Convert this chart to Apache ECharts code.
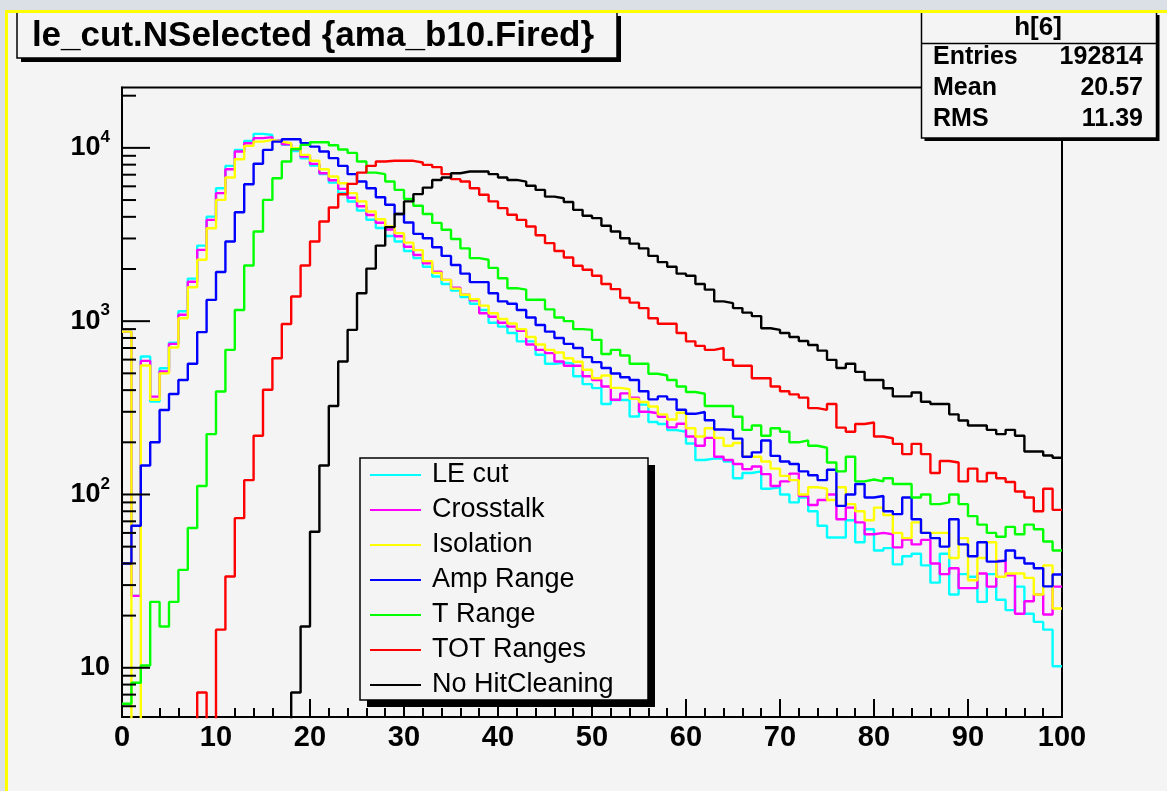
<!DOCTYPE html>
<html><head><meta charset="utf-8">
<script src="https://cdn.jsdelivr.net/npm/echarts@6/dist/echarts.min.js"></script>
<style>html,body{margin:0;padding:0;background:#f4f4f4;overflow:hidden}#c{width:1167px;height:791px}</style>
</head><body><div id="c"></div>
<script>
// Histogram bins: 100 bins of width 1 from 0 to 100 (bin i covers [i, i+1)); counts per bin.
const seriesNames = ['LE cut','Crosstalk','Isolation','Amp Range','T Range','TOT Ranges','No HitCleaning'];
const seriesColors = ['#00ffff','#ff00ff','#ffff00','#0000ff','#00ff00','#ff0000','#000000'];

const leCut = [870,26,625,344,535,750,1140,1760,2730,4010,
 5850,7870,9740,10970,12050,11870,11000,10400,9600,8700,
 7900,7050,6300,5500,4900,4350,3850,3450,3100,2880,
 2540,2310,2060,1810,1640,1500,1380,1260,1160,980,
 930,854,765,765,640,568,575,570,481,433,
 411,333,351,351,282,330,262,255,235,230,
 197,158,161,161,155,124,133,136,108,110,
 100,90,96,80,66,56.5,56.5,71,53,63,
 47.5,49,39.5,44,45.5,39,31,45.5,26.5,34.7,
 33.5,24,34.7,24.7,21.5,29.4,20.5,18.4,16.6,10.2];

const crosstalk = [870,26,590,367,512,740,1090,1690,2580,3840,
 5480,7530,9530,10640,11380,11530,11000,10500,9800,8900,
 8080,7140,6500,5800,5150,4600,4100,3700,3380,3090,
 2690,2410,2160,1930,1730,1560,1420,1320,1110,1060,
 980,930,880,733,683,654,585,553,553,481,
 458,420,352,383,362,300,294,281,244,256,
 216,191,212,165,158,150,140,145,131,112,
 119,132,98,87,93,100,72,84,69,59,
 60,59,49.5,55,51.5,54.7,40,34.7,37.5,28.8,
 28.8,35,29.4,41.3,34.2,20.5,24.2,26.5,20.3,29.4];

const isolation = [870,0,555,352,500,705,1040,1570,2260,3440,
 5010,6740,8600,10270,10870,11120,10870,10640,9960,9110,
 8420,7530,6830,6250,5480,4910,4290,3870,3520,3220,
 2840,2570,2220,1900,1730,1540,1420,1340,1230,1110,
 1030,970,900,810,733,683,660,611,583,524,
 468,486,412,405,356,342,322,290,271,296,
 241,216,241,212,191,198,165,165,155,141,
 128,121,100,110,108,93,110,88,80,71,
 84,76,60,56,69,60,60,60,43,56,
 32,43,53,33.5,35,35,33,26.5,39,22];

const ampRange = [40,66,147,200,307,380,458,568,864,1327,
 1920,2880,4250,6170,8090,9730,10870,11220,11220,10650,
 10170,9530,8720,7870,7050,6390,5850,5190,4700,4150,
 3710,3190,3010,2670,2380,2110,1880,1680,1680,1450,
 1300,1260,1160,1050,950,870,800,740,700,620,
 580,537,499,475,458,394,354,368,354,308,
 292,299,268,237,236,210,165,175,205,167,
 155,150,136,129,121,139,86,100,115,96,
 98,80,77,96,72,60,56,50,72,51.5,
 44,53,41,41.5,47.5,43,40,37.5,29.5,34.5];

const tRange = [6.2,8.2,10.3,24,17.3,24,36.7,64,112,223,
 393,683,1160,2095,3290,5010,6680,8340,9830,10400,
 10780,10780,10350,9780,9350,8340,7200,7050,6390,5720,
 5070,4630,4150,3690,3370,2980,2630,2310,2260,2030,
 1770,1550,1520,1330,1330,1170,1050,1000,900,891,
 780,647,683,634,568,568,497,486,458,420,
 390,381,324,324,324,281,236,250,218,241,
 230,200,205,191,186,153,136,165,119,122,
 119,124,115,115,96,100,88,90,100,88,
 75,67,60,57,65,59,67,63,53.5,47.5];

const totRanges = [0,0,0,0,0,0,0,0,7.2,0,
 16.6,33.6,73,121,218,402,611,964,1387,2095,
 2880,3760,4530,5400,6200,7200,7870,8340,8420,8420,
 8420,8230,7980,7740,7050,6600,6390,5850,5360,4910,
 4490,4110,3840,3520,3130,2820,2540,2330,2090,1980,
 1830,1640,1530,1360,1280,1190,1040,966,966,854,
 765,720,683,700,598,553,553,468,468,420,
 394,378,362,315,308,333,243,230,255,260,
 216,211,196,171,196,171,133,156,153,119,
 141,119,133,124,118,104,96,80,108,81.5];

const noHitCleaning = [0,0,0,0,0,0,0,0,0,0,
 0,0,0,0,0,0,0,0,7.2,17.3,
 61,147,324,585,891,1450,2010,2730,3490,4150,
 4910,5410,5900,6530,6750,7140,7300,7300,7300,7050,
 6750,6530,6390,6040,5720,5230,5120,4870,4390,4060,
 3930,3550,3290,3010,2800,2630,2380,2190,2060,1880,
 1830,1640,1520,1300,1270,1190,1120,1070,910,891,
 854,810,768,728,676,598,537,568,510,458,
 458,410,368,368,388,343,333,333,290,267,
 250,250,236,223,236,218,177,177,168,163];

const yMajorTicks = [10,100,1000,10000];
const yMinorTicks = [6,7,8,9,20,30,40,50,60,70,80,90,200,300,400,500,600,700,800,900,
 2000,3000,4000,5000,6000,7000,8000,9000,20000];

const titleText = 'le_cut.NSelected {ama_b10.Fired}';
const statsTitle = 'h[6]';
const statsLabels = ['Entries','Mean','RMS'];
const statsValues = ['192814','20.57','11.39'];

const FONT = '"Liberation Sans", Arial, Helvetica, sans-serif';
const allValues = [leCut, crosstalk, isolation, ampRange, tRange, totRanges, noHitCleaning];

// Empty bins sit below the log axis floor, so their edges drop out of the frame (clipped).
function histData(values){
  const d = values.map((v,i)=>[i, v>0 ? v : 0.5]);
  d.push([values.length, d[d.length-1][1]]);
  return d;
}

const lineSeries = seriesNames.map((name,k)=>({
  name, type:'line', step:'end', symbol:'none', showSymbol:false,
  data: histData(allValues[k]), clip:true, silent:true,
  lineStyle:{color:seriesColors[k], width:2.4}, itemStyle:{color:seriesColors[k]},
  z:2, animation:false
}));

const tickData = yMajorTicks.map(v=>[0,v,1]).concat(yMinorTicks.map(v=>[0,v,0]));
const tickSeries = {
  type:'custom', silent:true, animation:false, z:6,
  data: tickData, encode:{x:0,y:1},
  renderItem:(params, api)=>{
    const p = api.coord([0, api.value(1)]);
    const len = api.value(2) ? 28 : 14;
    return {type:'line', shape:{x1:p[0], y1:p[1], x2:p[0]+len, y2:p[1]}, style:{stroke:'#000', lineWidth:2}};
  }
};

const chart = echarts.init(document.getElementById('c'), null, {renderer:'canvas'});
const statsGraphics = [];
statsLabels.forEach((lab,i)=>{
  statsGraphics.push({type:'text', z:21, style:{x:933, y:57+31*i, text:lab, font:'bold 25px '+FONT, fill:'#000', textAlign:'left', textVerticalAlign:'middle'}});
  statsGraphics.push({type:'text', z:21, style:{x:1143, y:57+31*i, text:statsValues[i], font:'bold 25px '+FONT, fill:'#000', textAlign:'right', textVerticalAlign:'middle'}});
});

chart.setOption({
  animation:false,
  backgroundColor:'#f4f4f4',
  grid:{left:122, right:105, top:87.5, bottom:74, show:true, borderColor:'#000', borderWidth:2, backgroundColor:'transparent', containLabel:false},
  xAxis:{type:'value', min:0, max:100, interval:10,
    axisLine:{show:true, onZero:false, lineStyle:{color:'#000', width:2}},
    axisTick:{show:true, inside:true, length:18, lineStyle:{color:'#000', width:2}},
    minorTick:{show:true, splitNumber:5, length:9, lineStyle:{color:'#000', width:2}},
    splitLine:{show:false},
    axisLabel:{color:'#000', fontSize:29, fontWeight:'bold', fontFamily:FONT, margin:6}
  },
  yAxis:{type:'log', logBase:10, min:5.2, max:22300,
    axisLine:{show:true, lineStyle:{color:'#000', width:2}},
    axisTick:{show:false}, splitLine:{show:false}, minorTick:{show:false},
    axisLabel:{color:'#000', margin:12, showMinLabel:false, showMaxLabel:false,
      formatter:(v)=>{
        const l = Math.log10(v), e = Math.round(l);
        if (Math.abs(l-e) > 1e-6 || e < 1) return '';
        return e === 1 ? '{b|10}' : '{b|10}{s|'+e+'}';
      },
      rich:{
        b:{fontSize:27, fontWeight:'bold', fontFamily:FONT, color:'#000', lineHeight:38},
        s:{fontSize:17, fontWeight:'bold', fontFamily:FONT, color:'#000', verticalAlign:'top'}
      }
    }
  },
  legend:{orient:'vertical', left:370, top:460, padding:0, itemWidth:51, itemHeight:2, itemGap:5,
    icon:'rect', selectedMode:false, z:30, data:seriesNames,
    textStyle:{fontSize:27, fontFamily:FONT, color:'#000', lineHeight:30, padding:[0,0,0,6]}
  },
  graphic:[
    {type:'rect', z:0, silent:true, shape:{x:0,y:0,width:1167,height:11}, style:{fill:'#dbe0e6'}},
    {type:'rect', z:0, silent:true, shape:{x:0,y:0,width:6,height:791}, style:{fill:'#dbe0e6'}},
    // title pave
    {type:'rect', z:20, silent:true, shape:{x:21,y:16,width:600,height:46}, style:{fill:'#000'}},
    {type:'rect', z:20, silent:true, shape:{x:17,y:12,width:600,height:46}, style:{fill:'#f4f4f4', stroke:'#000', lineWidth:1.5}},
    {type:'text', z:21, silent:true, style:{x:313, y:36, text:titleText, font:'bold 35px '+FONT, fill:'#000', textAlign:'center', textVerticalAlign:'middle'}},
    // stats box
    {type:'rect', z:20, silent:true, shape:{x:924.5,y:15,width:235,height:126}, style:{fill:'#000'}},
    {type:'rect', z:20, silent:true, shape:{x:921.5,y:12,width:235,height:126}, style:{fill:'#f4f4f4', stroke:'#000', lineWidth:1.5}},
    {type:'line', z:21, silent:true, shape:{x1:921.5,y1:43.5,x2:1156.5,y2:43.5}, style:{stroke:'#000', lineWidth:1.5}},
    {type:'text', z:21, silent:true, style:{x:1038, y:28, text:statsTitle, font:'bold 26px '+FONT, fill:'#000', textAlign:'center', textVerticalAlign:'middle'}},
    ...statsGraphics,
    // legend box
    {type:'rect', z:20, silent:true, shape:{x:367,y:465,width:288,height:242}, style:{fill:'#000'}},
    {type:'rect', z:20, silent:true, shape:{x:360,y:458,width:288,height:242}, style:{fill:'#f4f4f4', stroke:'#000', lineWidth:1.5}},
    // canvas yellow border
    {type:'rect', z:50, silent:true, shape:{x:5,y:10,width:1162,height:3}, style:{fill:'#ffff00'}},
    {type:'rect', z:50, silent:true, shape:{x:5,y:10,width:3,height:781}, style:{fill:'#ffff00'}}
  ],
  series:[...lineSeries, tickSeries]
});
</script></body></html>
